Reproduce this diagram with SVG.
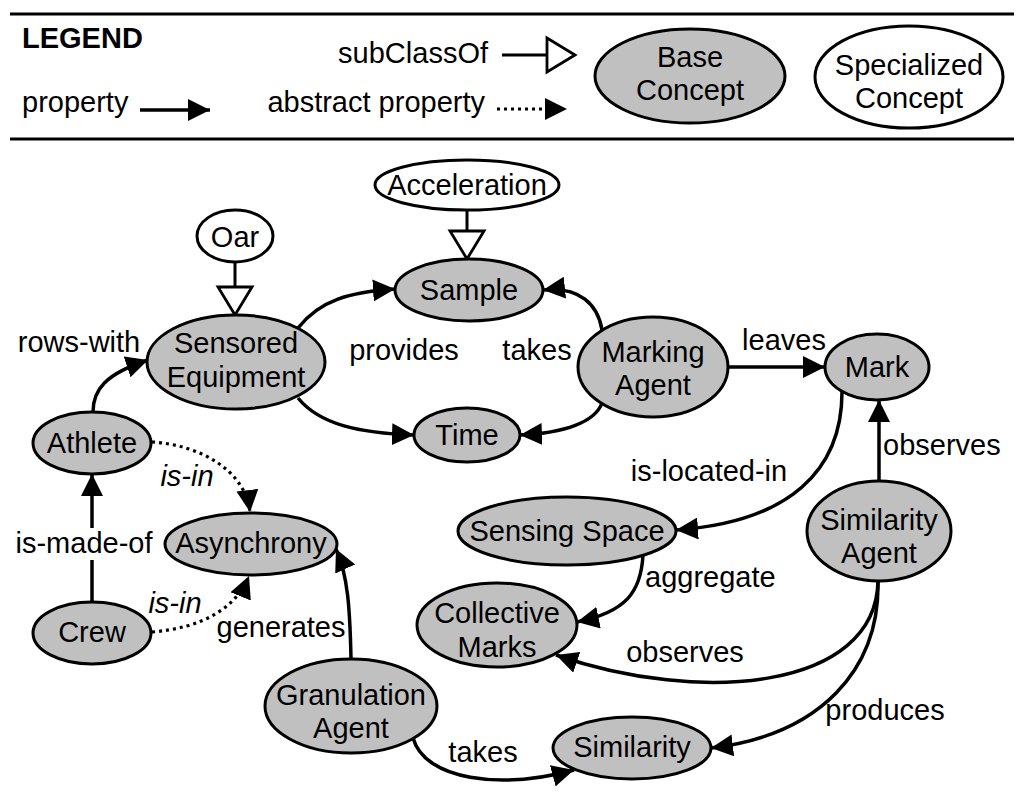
<svg xmlns="http://www.w3.org/2000/svg" width="1024" height="802" viewBox="0 0 1024 802">
<style>
text{font-family:"Liberation Sans",Arial,Helvetica,sans-serif;font-size:29px;fill:#000;text-anchor:middle}
.lg{font-weight:bold;font-size:29px;text-anchor:start}
.st{text-anchor:start}
.en{text-anchor:end}
.it{font-style:italic}
.base ellipse{fill:#c0c0c0;stroke:#000;stroke-width:3}
.spec ellipse{fill:#fff;stroke:#000;stroke-width:3}
.e{fill:none;stroke:#000;stroke-width:3.5}
.p{marker-end:url(#arr)}
.d{stroke-dasharray:3 4;stroke-width:3.2}
.s{marker-end:url(#sub);stroke-width:3}
.rule{stroke:#000;stroke-width:3}
</style>
<defs>
<marker id="arr" markerUnits="userSpaceOnUse" markerWidth="24" markerHeight="22" viewBox="0 0 24 22" refX="22" refY="11" orient="auto">
<path d="M0,0 L22,11 L0,22 z" fill="#000"/>
</marker>
<marker id="sub" markerUnits="userSpaceOnUse" markerWidth="34" markerHeight="40" viewBox="-3 -3 34 40" refX="28" refY="17" orient="auto">
<path d="M0,0 L28,17 L0,34 z" fill="#fff" stroke="#000" stroke-width="2.8" stroke-linejoin="miter"/>
</marker>
</defs>

<g id="legend">
<line class="rule" x1="10" y1="14" x2="1014" y2="14"/>
<line class="rule" x1="10" y1="139" x2="1014" y2="139"/>
<text class="lg" x="22" y="48">LEGEND</text>
<text class="en" x="488" y="63">subClassOf</text>
<path class="e s" d="M502,55 L575,55"/>
<text class="st" x="22" y="112">property</text>
<path class="e p" d="M140,110 L210,110"/>
<text class="en" x="485" y="112">abstract property</text>
<path class="e p d" d="M497,109 L567,109"/>
<g id="legend-base" class="base"><ellipse cx="690" cy="76" rx="95" ry="47"/><text x="690" y="67">Base</text><text x="690" y="100">Concept</text></g>
<g id="legend-spec" class="spec"><ellipse cx="909" cy="77" rx="94" ry="51"/><text x="909" y="75">Specialized</text><text x="909" y="108">Concept</text></g>
</g>

<g id="connectors">
<path class="e s" d="M235,262 L235,315"/>
<path class="e s" d="M467,210 L467,259"/>
<path class="e p" d="M93,412 C93,390 105,374 148,360"/>
<path class="e p" d="M298,328 C320,300 350,292 395,289"/>
<path class="e p" d="M298,398 C320,425 360,433 414,435"/>
<path class="e p" d="M602,330 C598,305 580,286 543,290"/>
<path class="e p" d="M602,403 C595,422 565,433 520,435"/>
<path class="e p" d="M728,367 L825,367"/>
<path class="e p" d="M842,392 C842,470 790,522 676,530"/>
<path class="e p" d="M879,481 L879,400"/>
<path class="e p" d="M643,555 C641,592 626,612 577,622"/>
<path class="e p" d="M878,581 C876,690 700,705 556,655"/>
<path class="e p" d="M878,581 C880,670 820,735 711,748"/>
<path class="e p" d="M413,738 C425,780 500,790 574,770"/>
<path class="e p" d="M351,659 C350,610 348,575 336,549"/>
<path class="e p d" d="M152,442 C200,445 245,470 250,512"/>
<path class="e p d" d="M152,632 C200,628 235,610 249,576"/>
<path class="e p" d="M92,528 L92,474"/>
<path class="e" d="M92,602 L92,560"/>
<text x="79" y="352">rows-with</text>
<text x="404" y="360">provides</text>
<text x="537" y="360">takes</text>
<text x="784" y="350">leaves</text>
<text x="709" y="481">is-located-in</text>
<text class="st" x="883" y="455">observes</text>
<text class="st" x="645" y="587">aggregate</text>
<text x="685" y="662">observes</text>
<text x="885" y="720">produces</text>
<text x="483" y="762">takes</text>
<text x="281" y="637">generates</text>
<text class="it" x="187" y="486">is-in</text>
<text class="it" x="175" y="613">is-in</text>
<text x="84" y="553">is-made-of</text>
</g>

<g id="oar" class="spec"><ellipse cx="235" cy="236" rx="38" ry="26"/><text x="235" y="247">Oar</text></g>
<g id="acceleration" class="spec"><ellipse cx="467" cy="185" rx="92" ry="25"/><text x="467" y="195">Acceleration</text></g>
<g id="sample" class="base"><ellipse cx="469" cy="290" rx="74" ry="31"/><text x="469" y="300">Sample</text></g>
<g id="sensored-equipment" class="base"><ellipse cx="236" cy="362" rx="89" ry="47"/><text x="236" y="353">Sensored</text><text x="236" y="387">Equipment</text></g>
<g id="time" class="base"><ellipse cx="467" cy="435" rx="53" ry="27"/><text x="467" y="445">Time</text></g>
<g id="marking-agent" class="base"><ellipse cx="653" cy="367" rx="75" ry="50"/><text x="653" y="362">Marking</text><text x="653" y="395">Agent</text></g>
<g id="mark" class="base"><ellipse cx="877" cy="367" rx="52" ry="33"/><text x="877" y="377">Mark</text></g>
<g id="athlete" class="base"><ellipse cx="92" cy="443" rx="59" ry="31"/><text x="92" y="453">Athlete</text></g>
<g id="asynchrony" class="base"><ellipse cx="251" cy="544" rx="86" ry="31"/><text x="251" y="553">Asynchrony</text></g>
<g id="crew" class="base"><ellipse cx="92" cy="633" rx="59" ry="31"/><text x="92" y="642">Crew</text></g>
<g id="granulation-agent" class="base"><ellipse cx="351" cy="706" rx="86" ry="47"/><text x="351" y="705">Granulation</text><text x="351" y="738">Agent</text></g>
<g id="sensing-space" class="base"><ellipse cx="567" cy="531" rx="109" ry="34"/><text x="567" y="541">Sensing Space</text></g>
<g id="collective-marks" class="base"><ellipse cx="497" cy="625" rx="80" ry="42"/><text x="497" y="623">Collective</text><text x="497" y="657">Marks</text></g>
<g id="similarity-agent" class="base"><ellipse cx="879" cy="531" rx="72" ry="50"/><text x="879" y="530">Similarity</text><text x="879" y="563">Agent</text></g>
<g id="similarity" class="base"><ellipse cx="632" cy="748" rx="79" ry="31"/><text x="632" y="757">Similarity</text></g>
</svg>
